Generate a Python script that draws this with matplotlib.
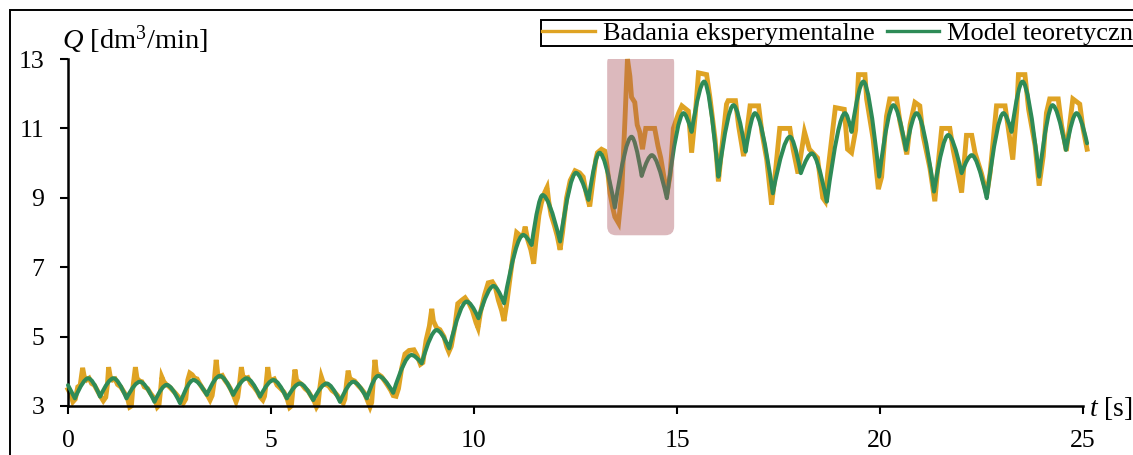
import matplotlib
matplotlib.use('Agg')
import matplotlib.pyplot as plt
from matplotlib.path import Path
from matplotlib.patches import PathPatch, FancyBboxPatch, Rectangle
from matplotlib.lines import Line2D

plt.rcParams['font.family'] = 'Liberation Serif'
plt.rcParams['mathtext.fontset'] = 'custom'
plt.rcParams['mathtext.rm'] = 'Liberation Serif'
plt.rcParams['mathtext.it'] = 'Liberation Serif:italic'

# Model teoretyczny - kolejne dołki i szczyty łuków
model_t = [0.00, 0.17, 0.50, 0.79, 1.12, 1.44, 1.77, 2.13, 2.43, 2.76, 3.09, 3.42, 3.74,
           4.07, 4.40, 4.73, 5.06, 5.39, 5.71, 6.04, 6.37, 6.70, 7.03, 7.36, 7.64, 8.01,
           8.46, 8.71, 9.08, 9.39, 9.82, 10.11, 10.48, 10.74, 11.21, 11.42, 11.69, 12.12,
           12.51, 12.82, 13.09, 13.47, 13.88, 14.13, 14.38, 14.75, 15.16, 15.36, 15.67,
           16.02, 16.39, 16.69, 16.92, 17.36, 17.78, 18.05, 18.32, 18.69, 19.14, 19.30,
           19.59, 19.98, 20.33, 20.64, 20.90, 21.33, 21.68, 22.01, 22.26, 22.63, 23.04,
           23.24, 23.51, 23.92, 24.25, 24.58, 24.84, 25.10]
model_q = [3.60, 3.22, 3.80, 3.27, 3.80, 3.22, 3.70, 3.12, 3.61, 3.08, 3.75, 3.32, 3.87,
           3.32, 3.80, 3.27, 3.75, 3.22, 3.65, 3.17, 3.65, 3.12, 3.70, 3.22, 3.87, 3.38,
           4.47, 4.23, 5.19, 4.66, 6.01, 5.53, 6.46, 5.96, 7.93, 7.64, 9.08, 7.74,
           9.72, 8.94, 10.30, 8.72, 10.76, 9.63, 10.23, 8.99, 11.44, 10.90, 12.35,
           9.61, 11.67, 10.33, 11.44, 9.13, 10.76, 9.71, 10.28, 8.89, 11.44, 10.90,
           12.35, 9.61, 11.67, 10.38, 11.44, 9.18, 10.81, 9.71, 10.23, 8.99, 11.44,
           10.90, 12.35, 9.61, 11.67, 10.38, 11.44, 10.57]

# Badania eksperymentalne
exp_t = [0.00, 0.06, 0.12, 0.18, 0.24, 0.30, 0.36, 0.40, 0.46, 0.52, 0.58, 0.65, 0.72,
         0.79, 0.87, 0.93, 0.97, 1.00, 1.04, 1.10, 1.16, 1.22, 1.30, 1.37,
         1.46, 1.52, 1.56, 1.60, 1.66, 1.70, 1.76, 1.82, 1.88, 1.96, 2.04,
         2.14, 2.20, 2.24, 2.28, 2.31, 2.36, 2.42, 2.50, 2.58, 2.66,
         2.78, 2.84, 2.90, 2.95, 3.00, 3.06, 3.12, 3.18, 3.24, 3.32,
         3.44, 3.50, 3.55, 3.60, 3.65, 3.69, 3.74, 3.80, 3.86, 3.94, 4.00,
         4.08, 4.14, 4.18, 4.23, 4.27, 4.31, 4.37, 4.43, 4.50, 4.58, 4.66,
         4.74, 4.80, 4.84, 4.88, 4.92, 4.96, 5.02, 5.08, 5.15, 5.24, 5.32,
         5.40, 5.46, 5.50, 5.55, 5.59, 5.63, 5.69, 5.76, 5.84, 5.92, 5.98,
         6.06, 6.12, 6.16, 6.20, 6.24, 6.28, 6.34, 6.42, 6.50, 6.58, 6.64,
         6.72, 6.78, 6.82, 6.86, 6.90, 6.94, 7.00, 7.06, 7.14, 7.22, 7.30,
         7.38, 7.44, 7.48, 7.52, 7.56, 7.60, 7.66, 7.72, 7.80, 7.88, 7.95,
         8.01, 8.08, 8.14, 8.22, 8.30, 8.40, 8.52, 8.60, 8.68, 8.74, 8.82, 8.90, 8.96,
         9.00, 9.08, 9.16, 9.26, 9.33, 9.38, 9.44, 9.53, 9.60, 9.70, 9.78, 9.88, 9.96,
         10.05, 10.10, 10.16, 10.26, 10.35, 10.45, 10.52, 10.60, 10.68, 10.74, 10.80,
         10.90, 10.97, 11.05, 11.15, 11.22, 11.26, 11.32, 11.40, 11.47, 11.52, 11.60,
         11.66, 11.74, 11.80, 11.84, 11.90, 11.98, 12.05, 12.12, 12.18, 12.28, 12.37,
         12.49, 12.60, 12.69, 12.77, 12.85, 12.92, 13.00, 13.04, 13.14, 13.22, 13.28,
         13.35, 13.42, 13.47, 13.56, 13.64, 13.72, 13.78, 13.84, 13.88, 13.96, 14.02,
         14.08, 14.15, 14.23, 14.45, 14.53, 14.60, 14.68, 14.75, 14.83, 14.91, 15.04,
         15.12, 15.28, 15.36, 15.45, 15.53, 15.73, 15.81, 15.94, 16.02, 16.10, 16.22,
         16.26, 16.44, 16.52, 16.64, 16.72, 16.80, 17.01, 17.09, 17.21, 17.33, 17.42,
         17.53, 17.78, 17.86, 17.98, 18.06, 18.14, 18.26, 18.46, 18.59, 18.65, 18.71,
         18.90, 19.12, 19.20, 19.30, 19.40, 19.47, 19.63, 19.67, 19.83, 19.96, 20.04,
         20.16, 20.24, 20.41, 20.49, 20.66, 20.74, 20.86, 20.98, 21.06, 21.23, 21.35,
         21.43, 21.52, 21.72, 21.80, 22.01, 22.13, 22.26, 22.34, 22.50, 22.63, 22.71,
         22.87, 23.08, 23.16, 23.27, 23.37, 23.41, 23.57, 23.66, 23.82, 23.92, 24.02,
         24.10, 24.18, 24.39, 24.47, 24.59, 24.67, 24.75, 24.92, 25.00, 25.10]
exp_q = [3.48, 3.35, 3.12, 3.20, 3.55, 3.60, 4.10, 3.85, 3.75, 3.80, 3.65, 3.60, 3.45,
         3.30, 3.15, 3.25, 3.60, 4.12, 3.85, 3.75, 3.78, 3.62, 3.55, 3.42,
         3.25, 2.97, 3.00, 3.55, 4.12, 3.80, 3.72, 3.70, 3.55, 3.50, 3.35,
         3.20, 2.97, 3.02, 3.45, 3.84, 3.70, 3.62, 3.55, 3.45, 3.35,
         3.18, 3.08, 3.20, 3.75, 3.95, 3.90, 3.80, 3.78, 3.65, 3.50,
         3.30, 3.17, 3.30, 3.70, 4.33, 3.90, 3.85, 3.88, 3.75, 3.62, 3.50,
         3.30, 3.12, 3.25, 3.70, 4.12, 3.85, 3.80, 3.82, 3.65, 3.55, 3.42,
         3.25, 3.17, 3.28, 3.65, 4.12, 3.80, 3.75, 3.78, 3.60, 3.50, 3.40,
         3.20, 2.96, 3.00, 3.60, 4.05, 3.75, 3.68, 3.62, 3.50, 3.42, 3.30,
         3.15, 2.97, 3.05, 3.50, 3.84, 3.70, 3.62, 3.58, 3.45, 3.38, 3.30,
         3.15, 3.08, 3.20, 3.65, 4.02, 3.80, 3.75, 3.72, 3.60, 3.50, 3.38,
         3.15, 2.97, 3.10, 3.70, 4.33, 3.95, 3.90, 3.85, 3.72, 3.58, 3.45,
         3.30, 3.28, 3.50, 4.10, 4.50, 4.60, 4.62, 4.45, 4.20, 4.25, 4.90, 5.30, 5.80,
         5.45, 5.25, 5.20, 5.00, 4.70, 4.56, 4.72, 5.30, 5.95, 6.05, 6.12, 5.95, 5.75,
         5.40, 5.25, 5.70, 6.20, 6.55, 6.58, 6.45, 6.05, 5.75, 5.45, 5.90,
         6.80, 7.40, 8.00, 7.90, 7.95, 8.17, 7.80, 7.50, 7.10, 7.70, 8.50,
         8.85, 9.15, 9.30, 8.90, 8.50, 8.20, 7.90, 7.50, 8.00, 9.00, 9.50,
         9.78, 9.72, 9.60, 9.10, 8.75, 9.40, 10.10, 10.30, 10.40, 10.35, 9.90,
         9.13, 8.70, 8.45, 8.27, 9.20, 11.30, 13.00, 12.50, 11.90, 11.75, 11.10,
         10.90, 10.40, 11.00, 11.00, 10.50, 10.15, 9.60, 9.10, 9.65, 11.00, 11.44,
         11.65, 11.50, 10.30, 11.40, 12.60, 12.55, 11.90, 10.67, 9.47, 10.40, 11.70,
         11.80, 11.80, 11.05, 10.20, 10.90, 11.65, 11.65, 10.90, 10.10, 8.80, 9.70,
         11.00, 11.00, 10.40, 9.70, 10.30, 10.90, 10.40, 10.15, 9.00, 8.90, 9.70,
         11.60, 11.55, 10.40, 10.30, 10.95, 12.55, 12.55, 11.85, 10.70, 9.25, 9.60,
         11.35, 11.85, 11.85, 11.20, 10.25, 11.10, 11.75, 11.65, 10.80, 9.85, 8.90,
         9.95, 11.00, 11.00, 10.40, 9.15, 10.80, 10.80, 10.30, 9.70, 9.10, 9.70,
         11.65, 11.65, 11.00, 10.10, 11.55, 12.55, 12.55, 11.55, 10.50, 9.35, 10.20,
         11.45, 11.85, 11.85, 11.10, 10.35, 11.10, 11.85, 11.70, 11.00, 10.40]

# Obszar wyróżniony (t od-do, Q od-do)
box_t = [13.28, 14.93]
box_q = [7.92, 13.15]

x_ticks = [0, 5, 10, 15, 20, 25]
y_ticks = [3, 5, 7, 9, 11, 13]

c_exp = '#DFA323'
c_mod = '#2E8B57'

fig = plt.figure(figsize=(11.33, 4.55), dpi=100)
ax = fig.add_axes([68 / 1133, 1 - 406 / 455, 1015 / 1133, 347 / 455])

ax.plot(exp_t, exp_q, color=c_exp, lw=3.5, solid_joinstyle='miter', clip_on=False, zorder=2)

# model rysowany łukami (krzywe Beziera między dołkami i szczytami)
verts = [(model_t[0], model_q[0])]
codes = [Path.MOVETO]
n = len(model_t)
for i in range(1, n):
    t0, q0 = model_t[i - 1], model_q[i - 1]
    t1, q1 = model_t[i], model_q[i]
    peak1 = 0 < i < n - 1 and q1 > model_q[i - 1] and q1 > model_q[i + 1]
    peak0 = 0 < i - 1 and q0 > model_q[i - 2] and q0 > q1
    if peak1:
        verts += [(t0 + 0.64 * (t1 - t0), q1), (t1, q1)]
        codes += [Path.CURVE3, Path.CURVE3]
    elif peak0:
        verts += [(t0 + 0.36 * (t1 - t0), q0), (t1, q1)]
        codes += [Path.CURVE3, Path.CURVE3]
    else:
        verts.append((t1, q1))
        codes.append(Path.LINETO)
ax.add_patch(PathPatch(Path(verts, codes), fill=False, edgecolor=c_mod, lw=2.9,
                       joinstyle='round', capstyle='round', clip_on=False, zorder=3))

ax.add_patch(FancyBboxPatch((box_t[0], box_q[0]), box_t[1] - box_t[0], box_q[1] - box_q[0],
                            boxstyle='round,pad=0,rounding_size=0.22', mutation_aspect=1.17,
                            facecolor='#a8505a', edgecolor='none', alpha=0.4, zorder=4))

ax.set_xlim(0, 25)
ax.set_ylim(3, 13)
ax.set_xticks(x_ticks)
ax.set_yticks(y_ticks)
for s in ['top', 'right']:
    ax.spines[s].set_visible(False)
for s in ['left', 'bottom']:
    ax.spines[s].set_linewidth(1.8)
ax.tick_params(direction='out', length=6, width=1.5, labelsize=18.5, pad=11)

fig.text(62 / 1133, 1 - 40 / 455, r'$Q$ [dm$^3$/min]', fontsize=20.5, va='center', ha='left')
fig.text(1089 / 1133, 1 - 408 / 455, r'$t$ [s]', fontsize=20, va='center', ha='left')

handles = [Line2D([], [], color=c_exp, lw=2.4), Line2D([], [], color=c_mod, lw=2.4)]
leg = fig.legend(handles, ['Badania eksperymentalne', 'Model teoretyczny'],
                 loc='upper left', bbox_to_anchor=(541 / 1133, 1 - 20 / 455), ncol=2,
                 fontsize=19, frameon=True, fancybox=False, framealpha=1,
                 edgecolor='black', handlelength=2.0, handletextpad=0.3,
                 columnspacing=0.45, borderpad=0.05, borderaxespad=0)
leg.get_frame().set_linewidth(1.4)

fig.add_artist(Rectangle((10 / 1133, -0.1), 1.2, 1.1 - 10 / 455, transform=fig.transFigure,
                         fill=False, edgecolor='black', lw=1.4))

fig.savefig('out.png', dpi=100)
